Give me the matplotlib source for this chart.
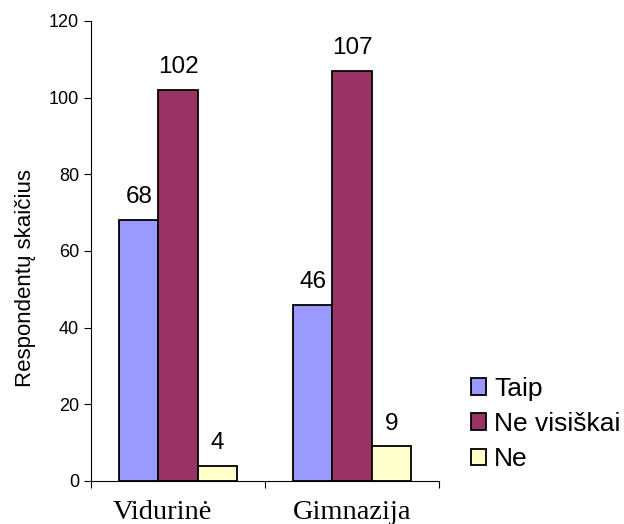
import numpy as np
import matplotlib.pyplot as plt
import matplotlib.transforms as mtransforms

categories = ['Vidurinė', 'Gimnazija']
series = ['Taip', 'Ne visiškai', 'Ne']
taip = [68, 46]
ne_visiskai = [102, 107]
ne = [4, 9]
colors = ['#9999FF', '#993366', '#FFFFCC']

plt.rcParams['font.family'] = ['Liberation Sans', 'DejaVu Sans']

fig = plt.figure(figsize=(6.24, 5.24), dpi=100)
ax = fig.add_axes([0.1458, 0.0821, 0.5577, 0.8779])

x = np.arange(len(categories))
w = 0.225
for i, (name, vals, col) in enumerate(zip(series, [taip, ne_visiskai, ne], colors)):
    pos = x + (i - 1) * w
    ax.bar(pos, vals, width=w, color=col, edgecolor='black', linewidth=1.3, label=name)
    for p, v in zip(pos, vals):
        ax.annotate(str(v), (p, v), xytext=(0, 8.5), textcoords='offset points',
                    ha='center', va='bottom', fontsize=17.5)

ax.set_xlim(-0.5, 1.5)
ax.set_ylim(0, 120)
ax.set_yticks(range(0, 121, 20))
ax.tick_params(axis='y', labelsize=13, length=5, direction='out')
ax.set_xticks([-0.5, 0.5, 1.5])
ax.set_xticklabels([])
ax.set_xticks(x, minor=True)
ax.set_xticklabels(categories, minor=True, fontsize=20.5, family='Liberation Serif')
ax.tick_params(axis='x', which='major', length=5, direction='out')
ax.tick_params(axis='x', which='minor', length=0, pad=14)
for s in ['top', 'right']:
    ax.spines[s].set_visible(False)
ax.set_ylabel('Respondentų skaičius', fontsize=16)
ax.yaxis.set_label_coords(-0.158, 0.441)

# first category label sits a little left of its group in the original
lab = ax.xaxis.get_minorticklabels()[0]
lab.set_transform(lab.get_transform() + mtransforms.ScaledTranslation(-16 / 100, 0, fig.dpi_scale_trans))

fig.legend(loc='center left', bbox_to_anchor=(0.716, 0.191), frameon=False,
           fontsize=19, handlelength=0.6, handleheight=0.6, handletextpad=0.3,
           labelspacing=0.43)

fig.savefig('out.png', dpi=100)
